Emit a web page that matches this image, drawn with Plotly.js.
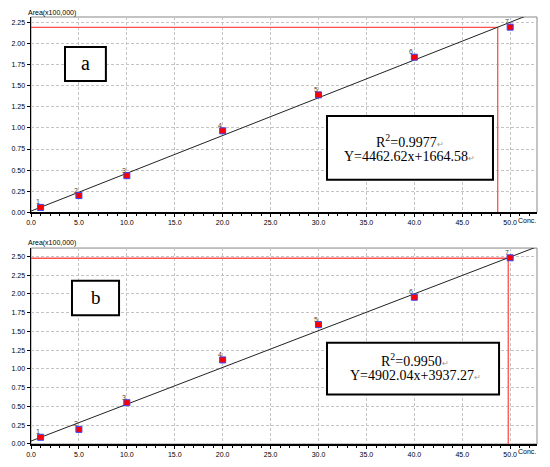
<!DOCTYPE html>
<html>
<head>
<meta charset="utf-8">
<script src="https://cdn.plot.ly/plotly-3.0.1.min.js"></script>
<style>html,body{margin:0;padding:0;background:#fff;}#chart{width:550px;height:467px;}</style>
</head>
<body>
<div id="chart"></div>
<script>
// Concentration levels (x) and peak areas (y, in units of 100,000)
const conc = [1, 5, 10, 20, 30, 40, 50];
const pointLabels = ['1', '2', '3', '4', '5', '6', '7'];
const areaA = [0.06, 0.20, 0.435, 0.965, 1.39, 1.835, 2.19];
const areaB = [0.09, 0.195, 0.55, 1.12, 1.59, 1.955, 2.48];
// Regression equations (Y = slope*x + intercept, raw area units)
const slopeA = 4462.62, interceptA = 1664.58, r2A = '0.9977';
const slopeB = 4902.04, interceptB = 3937.27, r2B = '0.9950';
// Red read-off cursor (conc, area x100,000)
const cursorA = [48.7, 2.187];
const cursorB = [49.8, 2.474];
const scale = 100000;
const lineX = [0, 55];

const tickFont = {family: 'Liberation Sans, Arial', size: 7, color: '#000'};
function xa(anchor) {
  return {
    range: [0, 52.8], dtick: 5, tickformat: '.1f', anchor: anchor,
    showgrid: true, gridcolor: '#c4c4c4', griddash: '3px,2px', gridwidth: 1,
    showline: true, linecolor: '#000', linewidth: 1.5,
    ticks: 'outside', ticklen: 3, tickcolor: '#000', tickfont: tickFont,
    minor: {dtick: 1, ticks: 'outside', ticklen: 2, tickcolor: '#000', showgrid: false},
    zeroline: false, fixedrange: true
  };
}
function ya(domain, range, anchor) {
  return {
    domain: domain, range: range, dtick: 0.25, tickformat: '.2f', anchor: anchor,
    showgrid: true, gridcolor: '#c4c4c4', griddash: '3px,2px', gridwidth: 1,
    showline: true, linecolor: '#000', linewidth: 1.5,
    ticks: 'outside', ticklen: 3, tickcolor: '#000', tickfont: tickFont,
    zeroline: false, fixedrange: true
  };
}
function pts(y, xr, yr) {
  return {
    x: conc, y: y, xaxis: xr, yaxis: yr, type: 'scatter', mode: 'markers',
    marker: {symbol: 'square', size: 6, color: '#ff0000', line: {color: '#3344ff', width: 1}},
    cliponaxis: false, showlegend: false
  };
}
function fit(slope, icpt, xr, yr) {
  return {
    x: lineX, y: lineX.map(v => (slope * v + icpt) / scale), xaxis: xr, yaxis: yr,
    type: 'scatter', mode: 'lines', line: {color: '#222', width: 1}, showlegend: false
  };
}
function cursor(c, xr, yr) {
  return {
    x: [0, c[0], c[0]], y: [c[1], c[1], 0], xaxis: xr, yaxis: yr,
    type: 'scatter', mode: 'lines', line: {color: '#ff5050', width: 1.3}, showlegend: false
  };
}

const data = [
  cursor(cursorA, 'x', 'y'), fit(slopeA, interceptA, 'x', 'y'), pts(areaA, 'x', 'y'),
  cursor(cursorB, 'x2', 'y2'), fit(slopeB, interceptB, 'x2', 'y2'), pts(areaB, 'x2', 'y2')
];

const serif = 'Liberation Serif, Times New Roman, serif';
const ret = '<span style="font-size:8px;color:#999">↵</span>';
function box(x0, x1, y0, y1) {
  return {type: 'rect', xref: 'paper', yref: 'paper', x0: x0, x1: x1, y0: y0, y1: y1,
    line: {color: '#000', width: 2}, fillcolor: '#fff', layer: 'above'};
}
function frame(xr, yr) {
  return {type: 'rect', xref: xr + ' domain', yref: yr + ' domain', x0: 0, x1: 1, y0: 0, y1: 1,
    line: {color: '#888', width: 1}, layer: 'below'};
}
function txt(x, y, t, size, anchor) {
  return {xref: 'paper', yref: 'paper', x: x, y: y, text: t, showarrow: false,
    xanchor: anchor || 'center', yanchor: 'middle', font: {family: serif, size: size, color: '#000'}};
}
function small(x, y, t, anchor) {
  return {xref: 'paper', yref: 'paper', x: x, y: y, text: t, showarrow: false,
    xanchor: anchor, yanchor: 'middle', font: {family: 'Liberation Sans, Arial', size: 7, color: '#000'}};
}
function ptLabels(ys, xr, yr) {
  return conc.map((c, i) => ({
    xref: xr, yref: yr, x: c, y: ys[i], text: pointLabels[i], showarrow: false,
    xanchor: 'right', yanchor: 'bottom', xshift: 1, yshift: 0,
    font: {family: 'Liberation Sans, Arial', size: 7, color: '#444'}
  }));
}

const layout = {
  width: 550, height: 467,
  margin: {l: 31, r: 13, t: 17, b: 22.5},
  paper_bgcolor: '#fff', plot_bgcolor: '#fff',
  xaxis: xa('y'), yaxis: ya([0.5422, 1], [0, 2.31], 'x'),
  xaxis2: xa('y2'), yaxis2: ya([0, 0.4589], [0, 2.61], 'x2'),
  shapes: [
    frame('x', 'y'), frame('x2', 'y2'),
    box(0.0672, 0.148, 0.8503, 0.9298),
    box(0.585, 0.913, 0.6187, 0.7684),
    box(0.081, 0.174, 0.3013, 0.3825),
    box(0.585, 0.925, 0.1158, 0.2374)
  ],
  annotations: [
    txt(0.1077, 0.892, 'a', 20),
    txt(0.1275, 0.344, 'b', 19),
    txt(0.7484, 0.7107, 'R<sup>2</sup>=' + r2A + ret, 14),
    txt(0.7484, 0.6732, 'Y=' + slopeA.toFixed(2) + 'x+' + interceptA.toFixed(2) + ret, 14),
    txt(0.759, 0.196, 'R<sup>2</sup>=' + r2B + ret, 14),
    txt(0.759, 0.161, 'Y=' + slopeB.toFixed(2) + 'x+' + interceptB.toFixed(2) + ret, 14),
    small(-0.0099, 1.0101, 'Area(x100,000)', 'left'),
    small(-0.0099, 0.4706, 'Area(x100,000)', 'left'),
    small(0.959, 0.5237, 'Conc.', 'left'),
    small(0.959, -0.0166, 'Conc.', 'left')
  ].concat(ptLabels(areaA, 'x', 'y'), ptLabels(areaB, 'x2', 'y2'))
};

Plotly.newPlot('chart', data, layout, {staticPlot: true, displayModeBar: false});
</script>
</body>
</html>
